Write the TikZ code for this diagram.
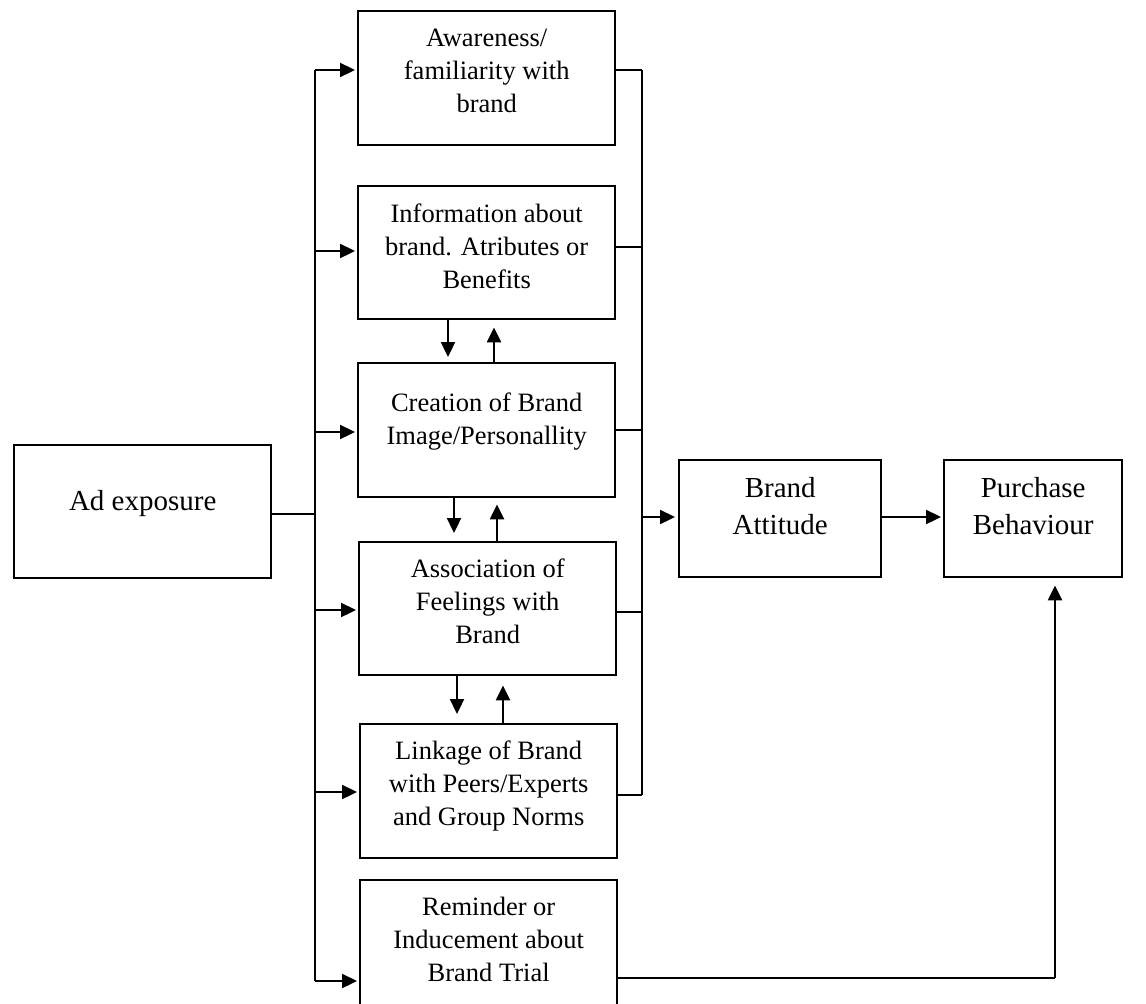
\documentclass[tikz,border=0pt]{standalone}
\usepackage{fontspec}
\setmainfont{Liberation Serif}
\usetikzlibrary{arrows.meta}
\begin{document}
\begin{tikzpicture}[x=1pt,y=-1pt,
  box/.style={draw, line width=2.4pt, inner sep=0pt, anchor=north west},
  stxt/.style={font=\fontsize{26.5}{32.8}\selectfont, align=center, anchor=north, inner sep=0pt, execute at begin node=\strut},
  btxt/.style={font=\fontsize{29}{37}\selectfont, align=center, anchor=north, inner sep=0pt, execute at begin node=\strut},
  thinln/.style={line width=1.2pt},
  arr/.style={line width=2.3pt, -{Triangle[length=15pt,width=14pt]}},
]
\clip (0,0) rectangle (1146,1004);
% boxes
\node[box, minimum width=257pt, minimum height=133pt] (ad) at (13,444) {};
\node[box, minimum width=257pt, minimum height=134pt] (aw) at (357,10) {};
\node[box, minimum width=257pt, minimum height=133pt] (info) at (357,185) {};
\node[box, minimum width=257pt, minimum height=134pt] (cre) at (357,362) {};
\node[box, minimum width=257pt, minimum height=133pt] (asc) at (358,541) {};
\node[box, minimum width=257pt, minimum height=134pt] (lnk) at (359,723) {};
\node[box, minimum width=257pt, minimum height=140pt] (rem) at (359,879) {};
\node[box, minimum width=202pt, minimum height=117pt] (ba) at (678,459) {};
\node[box, minimum width=178pt, minimum height=117pt] (pb) at (943,459) {};
% texts
\node[font=\fontsize{29}{37}\selectfont, anchor=base, inner sep=0pt, yshift=1.5pt] (adt) at (ad.center) {Ad exposure};
\node[stxt, yshift=-19pt] (awt) at (aw.north) {Awareness/\\familiarity with\\brand};
\node[stxt, yshift=-19pt] (infot) at (info.north) {Information about\\brand. Atributes or\\Benefits};
\node[stxt, yshift=-31pt] (cret) at (cre.north) {Creation of Brand\\Image/Personallity};
\node[stxt, yshift=-18pt] (asct) at (asc.north) {Association of\\Feelings with\\Brand};
\node[stxt, yshift=-18pt] (lnkt) at (lnk.north) {Linkage of Brand\\with Peers/Experts\\and Group Norms};
\node[stxt, yshift=-18pt] (remt) at (rem.north) {Reminder or\\Inducement about\\Brand Trial};
\node[btxt, yshift=-18pt] (bat) at (ba.north) {Brand\\Attitude};
\node[btxt, yshift=-18pt] (pbt) at (pb.north) {Purchase\\Behaviour};
% left bus
\coordinate (L0) at (315,514);
\coordinate (L1) at (315,70);
\coordinate (L2) at (315,251);
\coordinate (L3) at (315,432);
\coordinate (L4) at (315,610);
\coordinate (L5) at (315,792);
\coordinate (L6) at (315,981);
\draw[thinln] (ad.east |- L0) -- (L0);
\draw[thinln] (L1) -- (L6);
\draw[arr, shorten >=2pt] (L1) -- (L1 -| aw.west);
\draw[arr, shorten >=2pt] (L2) -- (L2 -| info.west);
\draw[arr, shorten >=2pt] (L3) -- (L3 -| cre.west);
\draw[arr, shorten >=2pt] (L4) -- (L4 -| asc.west);
\draw[arr, shorten >=2pt] (L5) -- (L5 -| lnk.west);
\draw[arr, shorten >=2pt] (L6) -- (L6 -| rem.west);
% right bus
\coordinate (R1) at (642,70);
\coordinate (R2) at (642,247);
\coordinate (R3) at (642,430);
\coordinate (R4) at (642,612);
\coordinate (R5) at (642,795);
\coordinate (R0) at (642,517);
\draw[thinln] (aw.east |- R1) -- (R1);
\draw[thinln] (info.east |- R2) -- (R2);
\draw[thinln] (cre.east |- R3) -- (R3);
\draw[thinln] (asc.east |- R4) -- (R4);
\draw[thinln] (lnk.east |- R5) -- (R5);
\draw[thinln] (R1) -- (R5);
\draw[arr, shorten >=3pt] (R0) -- (R0 -| ba.west);
\draw[arr, shorten >=2pt] (ba.east |- R0) -- (pb.west |- R0);
% reminder to purchase
\coordinate (C) at (1055,978);
\draw[thinln] (rem.east |- C) -- (C);
\draw[arr, shorten >=7pt] (C) -- (C |- pb.south);
% between boxes
\coordinate (d1) at (448,0); \coordinate (u1) at (494,0);
\coordinate (d2) at (454,0); \coordinate (u2) at (497,0);
\coordinate (d3) at (457,0); \coordinate (u3) at (503,0);
\draw[arr, shorten >=5pt] (d1 |- info.south) -- (d1 |- cre.north);
\draw[arr, shorten >=7pt] (u1 |- cre.north) -- (u1 |- info.south);
\draw[arr, shorten >=8pt] (d2 |- cre.south) -- (d2 |- asc.north);
\draw[arr, shorten >=6pt] (u2 |- asc.north) -- (u2 |- cre.south);
\draw[arr, shorten >=9pt] (d3 |- asc.south) -- (d3 |- lnk.north);
\draw[arr, shorten >=9pt] (u3 |- lnk.north) -- (u3 |- asc.south);
\end{tikzpicture}
\end{document}
